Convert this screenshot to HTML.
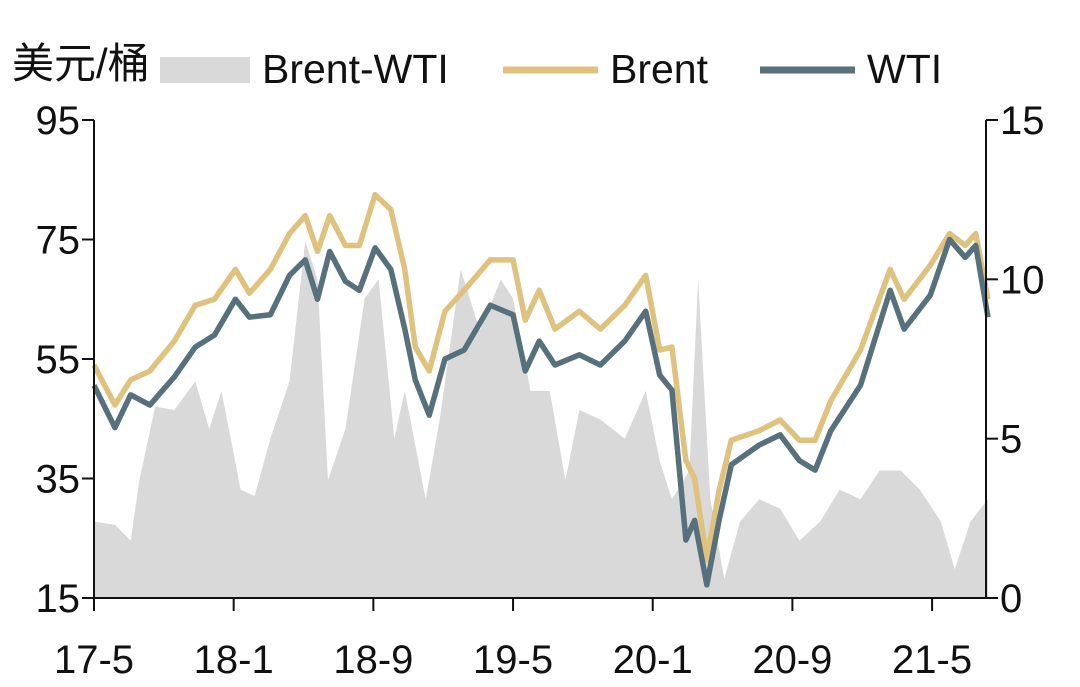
<!DOCTYPE html>
<html><head><meta charset="utf-8"><style>
html,body{margin:0;padding:0;background:#fff;}
svg{display:block;font-family:"Liberation Sans","Noto Sans CJK SC",sans-serif;}
</style></head><body>
<svg id="chart" width="1080" height="687" viewBox="0 0 1080 687">
  <g>
    <text x="12" y="78" font-size="42" fill="#111">美元/桶</text>
    <rect x="160" y="57" width="90" height="26" fill="#d9d9d9"/>
    <text x="262" y="83" font-size="41" fill="#111">Brent-WTI</text>
    <line x1="503" y1="70" x2="598" y2="70" stroke="#dfc27e" stroke-width="7"/>
    <text x="610" y="83" font-size="41" fill="#111">Brent</text>
    <line x1="760" y1="70" x2="855" y2="70" stroke="#56707c" stroke-width="7"/>
    <text x="867" y="83" font-size="41" fill="#111">WTI</text>
  </g>
  <g id="plot"></g>
</svg>
<script>
const leftTicks=[15,35,55,75,95];
const rightTicks=[0,5,10,15];
const xTickLabels=["17-5","18-1","18-9","19-5","20-1","20-9","21-5"];
const lineMonths=[0,1.2,2.1,3.2,4.6,5.8,6.9,8.1,8.9,10.1,11.2,12.1,12.8,13.5,14.4,15.2,16.1,17.0,17.8,18.4,19.2,20.1,21.2,22.7,24.0,24.7,25.5,26.4,27.8,29.0,30.4,31.6,32.4,33.1,33.9,34.4,35.1,35.8,36.5,38.1,39.3,40.4,41.3,42.2,43.9,45.6,46.4,47.9,49.0,49.9,50.5,51.2];
const brent=[54,47.3,51.5,53,58,64,65,70,66,70,76,79,73,79,74,74,82.5,80,70,57,53,63,66.5,71.6,71.6,61.5,66.5,60,63,60,64,69,56.5,57,38,35,21.4,33,41.4,43,44.8,41.4,41.4,48,56.5,70,65,70.7,76,74,76,65];
const wti=[50.6,43.5,49,47.3,52,57,59,65,62,62.4,69,71.6,65,73,68,66.5,73.6,70,60,51.5,45.6,55,56.5,64,62.4,53,58,54,55.7,54,58,63,52.3,49.8,24.7,28,17.2,28,37.3,40.6,42.3,38,36.4,43,50.6,66.5,60,65.7,75,72,74,62];
const spreadMonths=[0,1.2,2.1,2.6,3.5,4.6,5.8,6.6,7.3,8.4,9.2,10.1,11.2,12.1,12.8,13.4,14.4,15.5,16.3,17.2,17.8,19.0,19.8,21.0,22.1,23.3,24.0,25.0,26.1,27.0,27.8,29.0,30.4,31.6,32.4,33.1,34.1,34.6,35.3,36.1,37.0,38.1,39.3,40.4,41.6,42.7,43.9,45.0,46.2,47.3,48.5,49.3,50.2,51.2];
const spread=[2.4,2.3,1.8,3.7,6,5.9,6.8,5.3,6.5,3.4,3.2,5,6.8,11.2,10,3.7,5.3,9.4,10,5,6.5,3.1,5.6,10.3,8.4,10,9.4,6.5,6.5,3.7,5.9,5.6,5,6.5,4.3,3.1,4,10,3.1,0.6,2.4,3.1,2.8,1.8,2.4,3.4,3.1,4,4,3.4,2.4,0.9,2.4,3.1];

const X0=94,X1=986,Y0=598,Y1=120,PXM=17.46;
const xS=m=>X0+m*PXM;
const yL=v=>Y0-(v-15)/80*(Y0-Y1);
const yR=v=>Y0-v/15*(Y0-Y1);
const NS="http://www.w3.org/2000/svg";
const plot=document.getElementById('plot');
function mk(tag,attrs){const e=document.createElementNS(NS,tag);for(const k in attrs)e.setAttribute(k,attrs[k]);plot.appendChild(e);return e;}

let d="M"+xS(spreadMonths[0])+","+yR(0);
spreadMonths.forEach((m,i)=>{d+=" L"+xS(m)+","+yR(spread[i]);});
d+=" L"+xS(spreadMonths[spreadMonths.length-1])+","+yR(0)+" Z";
const area=mk('path',{d:d,fill:"#d9d9d9"});



function line(vals,color,name){
  let p="";lineMonths.forEach((m,i)=>{p+=(i?" L":"M")+xS(m)+","+yL(vals[i]);});
  const e=mk('path',{d:p,fill:"none",stroke:color,"stroke-width":5.5,"stroke-linejoin":"round"});
  
  
}
line(brent,"#dfc27e","brent-line");
line(wti,"#56707c","wti-line");

const ax=mk('path',{d:`M${X0},${Y1} L${X0},${Y0} L${X1},${Y0} M${X1},${Y1} L${X1},${Y0}`,stroke:"#111","stroke-width":2,fill:"none"});


leftTicks.forEach(v=>{
  const y=yL(v);
  const t=mk('line',{x1:X0-12,y1:y,x2:X0,y2:y,stroke:"#111","stroke-width":2});
  
  
  const l=mk('text',{x:X0-14,y:y+14,"font-size":40,"text-anchor":"end",fill:"#111"});
  l.textContent=v;
  
  
});
rightTicks.forEach(v=>{
  const y=yR(v);
  const t=mk('line',{x1:X1,y1:y,x2:X1+12,y2:y,stroke:"#111","stroke-width":2});
  
  
  const l=mk('text',{x:X1+14,y:y+14,"font-size":40,fill:"#111"});
  l.textContent=v;
  
  
});
xTickLabels.forEach((s,i)=>{
  const x=xS(i*8);
  const t=mk('line',{x1:x,y1:Y0,x2:x,y2:Y0+13,stroke:"#111","stroke-width":2});
  
  
  const l=mk('text',{x:x,y:673,"font-size":40,"text-anchor":"middle",fill:"#111"});
  l.textContent=s;
  
  
});
</script>
</body></html>
